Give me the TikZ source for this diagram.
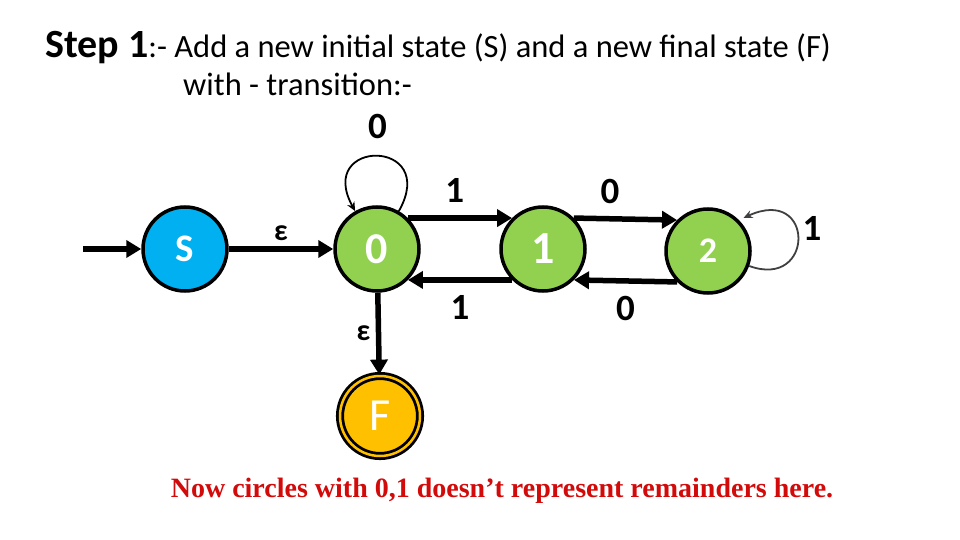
\documentclass[tikz,border=0pt]{standalone}
\usepackage{fontspec}
\setmainfont{Carlito}
\newfontfamily\timesfont{Liberation Serif}
\usepackage{xcolor}
\usepackage{tikz}
\usetikzlibrary{arrows.meta}
\definecolor{sblue}{HTML}{00B0F0}
\definecolor{qgreen}{HTML}{92D050}
\definecolor{fyellow}{HTML}{FFC000}
\definecolor{notered}{RGB}{210,10,10}
\tikzset{
  state/.style={circle, draw, line width=3.5pt, minimum size=84pt, inner sep=0pt, text=white},
  trans/.style={line width=5.5pt, -{Triangle[length=15pt,width=17pt]}},
  selfloop/.style={line width=1.8pt, -{Stealth[length=9pt,width=8pt]}},
  lab/.style={font=\fontsize{37}{37}\selectfont\bfseries},
  eps/.style={font=\fontsize{30}{30}\selectfont\bfseries},
}

\begin{document}
\begin{tikzpicture}[x=1pt,y=-1pt]
\useasboundingbox (0,0) rectangle (960,540);
\node[anchor=base west, inner sep=0] (title) at (45,58) {{\fontsize{40}{48}\selectfont\bfseries Step 1}{\fontsize{32.5}{36}\selectfont :- Add a new initial state (S) and a new final state (F)}};
\node[anchor=base west, inner sep=0] (line2) at (183,96) {\fontsize{32.5}{36}\selectfont with - transition:-};
\node[state, fill=sblue, font=\fontsize{39}{39}\selectfont\bfseries] (s) at (185,249) {S};
\node[state, fill=qgreen, font=\fontsize{44}{44}\selectfont\bfseries] (q0) at (377,249) {0};
\node[state, fill=qgreen, font=\fontsize{46}{46}\selectfont\bfseries] (q1) at (543,249) {1};
\node[state, fill=qgreen, font=\fontsize{36}{36}\selectfont\bfseries] (q2) at (708,251) {2};
\node[state, fill=fyellow, minimum size=80pt, line width=2.8pt, double=fyellow, double distance=2.5pt, font=\fontsize{46}{46}\selectfont] (f) at (380,416) {F};
\coordinate (start) at (83,249);
\draw[trans] (start) -- (s);
\draw[trans] (s) -- node[eps, above=2pt] {ε} (q0);
\draw[trans] (q0) -- node[eps, left=2pt] {ε} (f);
\draw[trans] (q0.45) -- node[lab, above=9pt, pos=0.45] {1} (q1.135);
\draw[trans] (q1.-135) -- node[lab, below=9pt] {1} (q0.-45);
\draw[trans] (q1.45) -- node[lab, above=9pt, pos=0.35] {0} (q2.135);
\draw[trans] (q2.-135) -- node[lab, below=9pt] {0} (q1.-45);
\draw[selfloop] (q0.60) .. controls (440,138) and (315,138) .. node[lab, above=13pt] {0} (q0.120);
\draw[selfloop, black!75, shorten >=5pt] (q2.-20) .. controls (815,290) and (815,185) .. node[lab, text=black, right=4pt, pos=0.6] {1} (q2.45);
\node[font=\timesfont\bfseries\fontsize{28}{30}\selectfont, text=notered, inner sep=0, anchor=base] (note) at (502,497) {Now circles with 0,1 doesn’t represent remainders here.};
\end{tikzpicture}
\end{document}
